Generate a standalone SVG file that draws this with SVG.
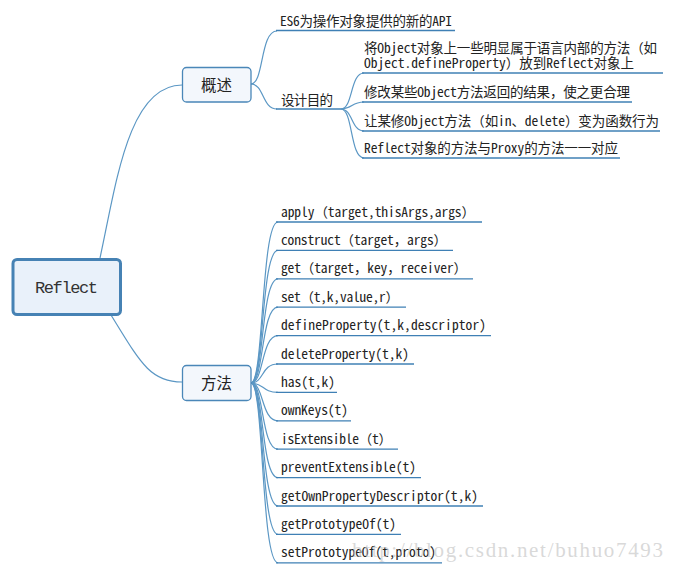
<svg xmlns="http://www.w3.org/2000/svg" width="674" height="572" viewBox="0 0 674 572">
<style>
.t{font-family:"Noto Sans Mono CJK SC","Noto Sans CJK SC","Liberation Mono",monospace;font-size:13.5px;fill:#222}
.c{fill:none;stroke:#5b97c4;stroke-width:1.2}
.u{fill:none;stroke:#3f80b5;stroke-width:1.3}
.n{fill:#f3f7fc;stroke:#4a87b8;stroke-width:1.3}
.nt{font-family:"Noto Sans CJK SC",sans-serif;font-size:15.5px;fill:#222;text-anchor:middle}
</style>
<rect width="674" height="572" fill="#fff"/>
<g id="connectors">
<path class="c" d="M100,258 C116,185 128,85 182,85"/>
<path class="c" d="M111,315 C140,362 150,382 182,382"/>
<path class="c" d="M251,84 C264,84 260,31 277,31"/>
<path class="c" d="M251,84 C264,84 262,109 277,109"/>
<path class="c" d="M341,109 C353,109 350,73 364,73"/>
<path class="c" d="M341,109 C353,109 351,102 364,102"/>
<path class="c" d="M341,109 C353,109 351,131 364,131"/>
<path class="c" d="M341,109 C353,109 350,158 364,158"/>
<path class="c" d="M251,383 C264,383 261,222 278,222"/>
<path class="c" d="M251,383 C264,383 261,250.4 278,250.4"/>
<path class="c" d="M251,383 C264,383 261,278.8 278,278.8"/>
<path class="c" d="M251,383 C264,383 261,307.2 278,307.2"/>
<path class="c" d="M251,383 C264,383 261,335.6 278,335.6"/>
<path class="c" d="M251,383 C264,383 261,364 278,364"/>
<path class="c" d="M251,383 C264,383 262,392.4 278,392.4"/>
<path class="c" d="M251,383 C264,383 261,420.8 278,420.8"/>
<path class="c" d="M251,383 C264,383 261,449.2 278,449.2"/>
<path class="c" d="M251,383 C264,383 261,477.6 278,477.6"/>
<path class="c" d="M251,383 C264,383 261,506 278,506"/>
<path class="c" d="M251,383 C264,383 261,534.4 278,534.4"/>
<path class="c" d="M251,383 C264,383 261,562.8 278,562.8"/>
</g>
<g id="root">
<rect x="13" y="259.5" width="107.5" height="55" rx="4" fill="#e9f1fa" stroke="#4682b4" stroke-width="3"/>
<text x="66.5" y="293" text-anchor="middle" style="font-family:'Liberation Mono',monospace;font-size:17px;fill:#333" textLength="63">Reflect</text>
</g>
<g id="n-overview">
<rect class="n" x="182.5" y="67.5" width="68.5" height="34.5" rx="4"/>
<text class="nt" x="216.5" y="91">概述</text>
</g>
<g id="n-methods">
<rect class="n" x="182.5" y="365.5" width="68.5" height="35" rx="4"/>
<text class="nt" x="216.5" y="389">方法</text>
</g>
<g id="c-es6">
<path class="u" d="M276,30.5 H455"/>
<text class="t" x="280" y="26" textLength="172">ES6为操作对象提供的新的API</text>
</g>
<g id="c-design">
<path class="u" d="M276,109 H341"/>
<text class="t" x="281" y="104.5" textLength="52">设计目的</text>
</g>
<g id="d1">
<path class="u" d="M362,73 H663"/>
<text class="t" x="364" y="53" textLength="293">将Object对象上一些明显属于语言内部的方法（如</text>
<text class="t" x="364" y="68" textLength="270">Object.defineProperty）放到Reflect对象上</text>
</g>
<g id="d2">
<path class="u" d="M362,102 H632"/>
<text class="t" x="364" y="97" textLength="266">修改某些Object方法返回的结果，使之更合理</text>
</g>
<g id="d3">
<path class="u" d="M362,131 H660"/>
<text class="t" x="364" y="125.5" textLength="295">让某修Object方法（如in、delete）变为函数行为</text>
</g>
<g id="d4">
<path class="u" d="M362,158 H620"/>
<text class="t" x="364" y="153" textLength="254">Reflect对象的方法与Proxy的方法一一对应</text>
</g>
<g id="m-apply"><path class="u" d="M276,222 H482"/><text class="t" x="281" y="216.5" textLength="194">apply（target,thisArgs,args）</text></g>
<g id="m-construct"><path class="u" d="M276,250.4 H453"/><text class="t" x="281" y="245" textLength="166">construct（target，args）</text></g>
<g id="m-get"><path class="u" d="M276,278.8 H473"/><text class="t" x="281" y="273.3" textLength="186">get（target，key，receiver）</text></g>
<g id="m-set"><path class="u" d="M276,307.2 H406"/><text class="t" x="281" y="301.7" textLength="118">set（t,k,value,r）</text></g>
<g id="m-defineProperty"><path class="u" d="M276,335.6 H491"/><text class="t" x="281" y="330.1" textLength="205">defineProperty(t,k,descriptor)</text></g>
<g id="m-deleteProperty"><path class="u" d="M276,364 H414"/><text class="t" x="281" y="358.5" textLength="128">deleteProperty(t,k)</text></g>
<g id="m-has"><path class="u" d="M276,392.4 H337"/><text class="t" x="281" y="386.9" textLength="54">has(t,k)</text></g>
<g id="m-ownKeys"><path class="u" d="M276,420.8 H351"/><text class="t" x="281" y="415.3" textLength="67">ownKeys(t)</text></g>
<g id="m-isExtensible"><path class="u" d="M276,449.2 H398"/><text class="t" x="281" y="443.7" textLength="111">isExtensible（t）</text></g>
<g id="m-preventExtensible"><path class="u" d="M276,477.6 H421"/><text class="t" x="281" y="472.1" textLength="135">preventExtensible(t)</text></g>
<g id="m-getOwnPropertyDescriptor"><path class="u" d="M276,506 H483"/><text class="t" x="281" y="500.5" textLength="197">getOwnPropertyDescriptor(t,k)</text></g>
<g id="m-getPrototypeOf"><path class="u" d="M276,534.4 H401"/><text class="t" x="281" y="528.9" textLength="115">getPrototypeOf(t)</text></g>
<g id="m-setPrototypeOf"><path class="u" d="M276,562.8 H442"/><text class="t" x="281" y="557.3" textLength="155">setPrototypeOf(t,proto)</text></g>
<text x="352" y="557" style="font-family:'Liberation Serif',serif;font-size:21px;fill:#c8c8c8;fill-opacity:0.7" textLength="311">http://blog.csdn.net/buhuo7493</text>
</svg>
